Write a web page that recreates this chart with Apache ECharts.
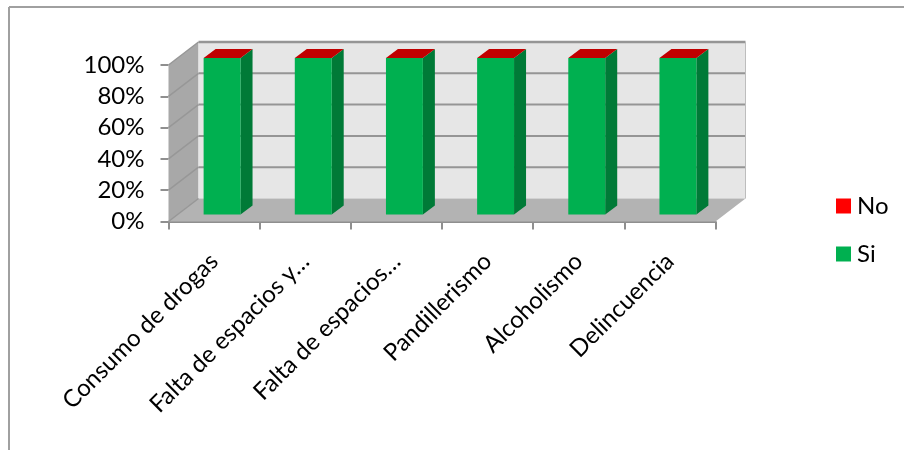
<!DOCTYPE html>
<html>
<head>
<meta charset="utf-8">
<script src="https://cdn.jsdelivr.net/npm/echarts@6/dist/echarts.min.js"></script>
<style>
  html, body { margin: 0; padding: 0; background: #fff; }
  #chart { width: 904px; height: 450px; }
</style>
</head>
<body>
<div id="chart"></div>
<script>
const categories = ['Consumo de drogas', 'Falta de espacios y…', 'Falta de espacios…', 'Pandillerismo', 'Alcoholismo', 'Delincuencia']
const siValues = [100, 100, 100, 100, 100, 100]
const noValues = [0, 0, 0, 0, 0, 0]
const yTicks = [0, 20, 40, 60, 80, 100]

// fake 3d depth, in px
const wallDx = 30
const wallDy = -23
const barDx = 12
const barDy = -9
const barShiftX = 8
const barShiftY = -7
const barRatio = 0.405

const chart = echarts.init(document.getElementById('chart'))

function poly(points, fill) {
  return { type: 'polygon', shape: { points }, style: { fill }, silent: true }
}
function seg(x1, y1, x2, y2, width, stroke) {
  return {
    type: 'line',
    shape: { x1, y1, x2, y2 },
    style: { stroke: stroke || '#959595', lineWidth: width },
    silent: true
  }
}

function renderWalls(params, api) {
  const box = params.coordSys
  const l = box.x
  const r = box.x + box.width
  const t = box.y
  const b = box.y + box.height
  const children = [
    poly([[l, t], [l + wallDx, t + wallDy], [l + wallDx, b + wallDy], [l, b]], '#a8a8a8'),
    poly([[l + wallDx, t + wallDy], [r + wallDx, t + wallDy], [r + wallDx, b + wallDy], [l + wallDx, b + wallDy]], '#e6e6e6'),
    poly([[l, b], [l + wallDx, b + wallDy], [r + wallDx, b + wallDy], [r, b]], '#b3b3b3')
  ]
  yTicks.forEach((v) => {
    const y = api.coord([0, v])[1]
    if (v > 0) {
      children.push(seg(l + wallDx, y + wallDy, r + wallDx, y + wallDy, v === 100 ? 2.5 : 2))
    }
    children.push(seg(l, y, l + wallDx, y + wallDy, 1.5, '#979797'))
  })
  children.push(seg(r + wallDx, t + wallDy, r + wallDx, b + wallDy, 1, '#bdbdbd'))
  return { type: 'group', children }
}

function renderSi(params, api) {
  const c = api.coord([api.value(0), 0])
  const top = api.coord([api.value(0), api.value(1)])[1] + barShiftY
  const w = api.size([1, 0])[0] * barRatio
  const x0 = c[0] + barShiftX - w / 2
  const x1 = x0 + w
  const y0 = c[1] + barShiftY
  return {
    type: 'group',
    children: [
      poly([[x1, y0], [x1 + barDx, y0 + barDy], [x1 + barDx, top + barDy], [x1, top]], '#007a37'),
      poly([[x0, y0], [x1, y0], [x1, top], [x0, top]], '#00b050')
    ]
  }
}

function renderNo(params, api) {
  const i = api.value(0)
  const c = api.coord([i, 0])
  const top = api.coord([i, siValues[i] + api.value(1)])[1] + barShiftY
  const w = api.size([1, 0])[0] * barRatio
  const x0 = c[0] + barShiftX - w / 2
  const x1 = x0 + w
  return poly([[x0, top], [x1, top], [x1 + barDx, top + barDy], [x0 + barDx, top + barDy]], '#c00000')
}

chart.setOption({
  animation: false,
  textStyle: { fontFamily: 'Lato' },
  grid: { left: 168.5, right: 188.5, top: 65, bottom: 228.5 },
  legend: {
    orient: 'vertical',
    left: 831,
    top: 189,
    itemWidth: 15,
    itemHeight: 15,
    itemGap: 24,
    icon: 'rect',
    textStyle: { color: '#000', fontSize: 24, padding: [0, 0, 0, 1] },
    data: ['No', 'Si']
  },
  xAxis: {
    type: 'category',
    data: categories,
    axisLine: { lineStyle: { color: '#8f8f8f', width: 2 } },
    axisTick: { show: true, length: 8, lineStyle: { color: '#8f8f8f', width: 2 } },
    axisLabel: { interval: 0, rotate: 45, margin: 36, color: '#000', fontSize: 24, fontFamily: 'Lato' }
  },
  yAxis: {
    type: 'value',
    min: 0,
    max: 100,
    interval: 20,
    axisLine: { show: false },
    axisTick: { show: true, length: 8, lineStyle: { color: '#8f8f8f', width: 2 } },
    axisLabel: { margin: 24, color: '#000', fontSize: 24, fontFamily: 'Lato', formatter: '{value}%' },
    splitLine: { show: false }
  },
  graphic: [
    { type: 'line', shape: { x1: 9, y1: 7, x2: 9, y2: 450 }, style: { stroke: '#a0a0a0', lineWidth: 2 } },
    { type: 'line', shape: { x1: 9, y1: 7, x2: 904, y2: 7 }, style: { stroke: '#a0a0a0', lineWidth: 2 } }
  ],
  series: [
    { name: 'walls', type: 'custom', renderItem: renderWalls, data: [[0, 0]], z: 1, silent: true },
    {
      name: 'Si',
      type: 'custom',
      renderItem: renderSi,
      data: siValues.map((v, i) => [i, v]),
      itemStyle: { color: '#00b050' },
      z: 3
    },
    {
      name: 'No',
      type: 'custom',
      renderItem: renderNo,
      data: noValues.map((v, i) => [i, v]),
      itemStyle: { color: '#ff0000' },
      z: 4
    }
  ]
})
</script>
</body>
</html>
